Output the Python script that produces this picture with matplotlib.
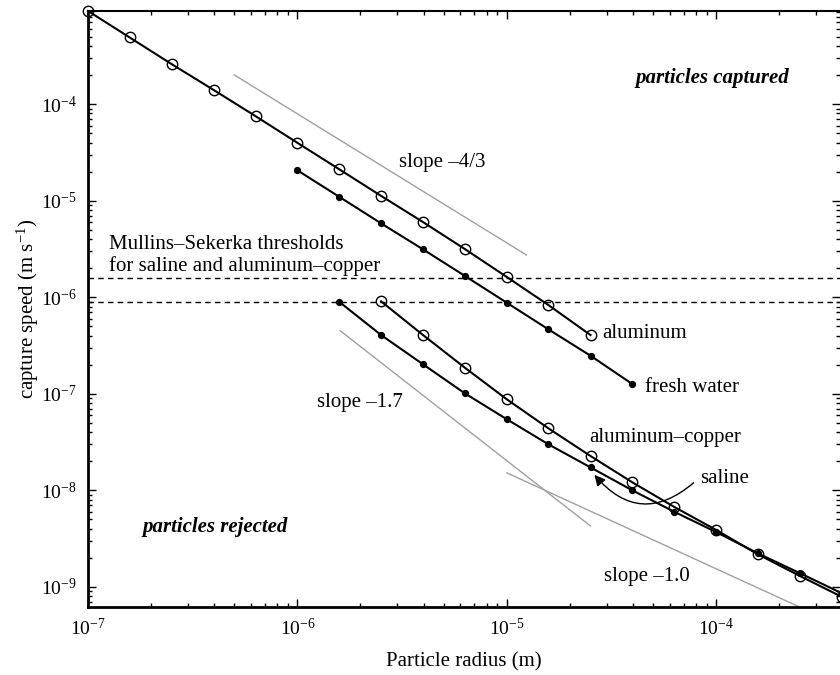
import matplotlib
matplotlib.use("Agg")
import matplotlib.pyplot as plt
from matplotlib.ticker import LogLocator, NullFormatter

plt.rcParams['font.family'] = 'Liberation Serif'
plt.rcParams['mathtext.fontset'] = 'custom'
plt.rcParams['mathtext.rm'] = 'Liberation Serif'
plt.rcParams['mathtext.it'] = 'Liberation Serif:italic'
plt.rcParams['mathtext.bf'] = 'Liberation Serif:bold'

# Data
radius = [1.0e-7, 1.58e-7, 2.51e-7, 3.98e-7, 6.31e-7, 1.0e-6, 1.58e-6,
          2.51e-6, 3.98e-6, 6.31e-6, 1.0e-5, 1.58e-5, 2.51e-5, 3.98e-5,
          6.31e-5, 1.0e-4, 1.58e-4, 2.51e-4, 3.98e-4]

aluminum_r = radius[0:13]
aluminum_v = [9.2e-4, 4.9e-4, 2.59e-4, 1.40e-4, 7.5e-5, 3.97e-5, 2.12e-5,
              1.12e-5, 6.0e-6, 3.15e-6, 1.62e-6, 8.3e-7, 4.06e-7]

fresh_r = radius[5:14]
fresh_v = [2.06e-5, 1.10e-5, 5.82e-6, 3.13e-6, 1.66e-6, 8.77e-7, 4.65e-7,
           2.48e-7, 1.26e-7]

alcu_r = radius[7:19]
alcu_v = [9.06e-7, 4.06e-7, 1.86e-7, 8.77e-8, 4.39e-8, 2.27e-8, 1.21e-8,
          6.73e-9, 3.89e-9, 2.18e-9, 1.30e-9, 7.9e-10]

saline_r = radius[6:19]
saline_v = [9.0e-7, 4.06e-7, 2.02e-7, 1.01e-7, 5.45e-8, 3.0e-8, 1.73e-8,
            1.0e-8, 6.0e-9, 3.7e-9, 2.23e-9, 1.39e-9, 8.6e-10]

thresholds = [1.57e-6, 9.0e-7]

slope43_r, slope43_v = [5.0e-7, 1.24e-5], [2.0e-4, 2.74e-6]
slope17_r, slope17_v = [1.6e-6, 2.51e-5], [4.5e-7, 4.28e-9]
slope10_r, slope10_v = [1.0e-5, 2.48e-4], [1.52e-8, 6.25e-10]

# Plot
fig = plt.figure(figsize=(8.4, 6.75), dpi=100)
ax = fig.add_axes([0.1048, 0.1007, 0.8952, 0.883])
ax.set_xscale('log')
ax.set_yscale('log')
ax.set_xlim(1e-7, 3.9e-4)
ax.set_ylim(6.2e-10, 9.2e-4)

gray = '#a0a0a0'
ax.plot(slope43_r, slope43_v, color=gray, lw=1.0)
ax.plot(slope17_r, slope17_v, color=gray, lw=1.0)
ax.plot(slope10_r, slope10_v, color=gray, lw=1.0)

for v in thresholds:
    ax.axhline(v, color='black', ls=(0, (4, 3)), lw=1.0)

ax.plot(aluminum_r, aluminum_v, '-o', color='black', lw=1.5, ms=7.5,
        mfc='none', mew=1.0, clip_on=False, zorder=4)
ax.plot(fresh_r, fresh_v, '-o', color='black', lw=1.5, ms=4.2, zorder=4)
ax.plot(alcu_r, alcu_v, '-o', color='black', lw=1.5, ms=7.5,
        mfc='none', mew=1.0, zorder=4)
ax.plot(saline_r, saline_v, '-o', color='black', lw=1.5, ms=4.2, zorder=4)

fs = 15
ax.text(3.06e-6, 2.51e-5, 'slope –4/3', fontsize=fs, va='center')
ax.text(1.26e-7, 2.70e-6, 'Mullins–Sekerka thresholds\nfor saline and aluminum–copper',
        fontsize=fs, va='center', linespacing=1.15)
ax.text(2.87e-5, 4.26e-7, 'aluminum', fontsize=fs, va='center')
ax.text(4.59e-5, 1.17e-7, 'fresh water', fontsize=fs, va='center')
ax.text(2.48e-5, 3.5e-8, 'aluminum–copper', fontsize=fs, va='center')
ax.text(1.24e-6, 8.2e-8, 'slope –1.7', fontsize=fs, va='center')
ax.text(2.9e-5, 1.27e-9, 'slope –1.0', fontsize=fs, va='center')
ax.text(4.11e-5, 1.85e-4, 'particles captured', fontsize=fs, va='center',
        fontweight='bold', fontstyle='italic')
ax.text(1.81e-7, 4.2e-9, 'particles rejected', fontsize=fs, va='center',
        fontweight='bold', fontstyle='italic')

# saline label with curved arrow
ax.text(8.4e-5, 1.34e-8, 'saline', fontsize=fs, va='center')
ax.annotate('', xy=(2.62e-5, 1.45e-8), xytext=(7.8e-5, 1.2e-8),
            arrowprops=dict(arrowstyle='-|>', color='black', lw=1.0,
                            connectionstyle='arc3,rad=-0.5',
                            shrinkA=0, shrinkB=0, mutation_scale=16))

ax.set_xlabel('Particle radius (m)', fontsize=fs, labelpad=9)
ax.set_ylabel('capture speed (m s$^{-1}$)', fontsize=fs, labelpad=0)

ax.xaxis.set_major_locator(LogLocator(base=10, numticks=20))
ax.yaxis.set_major_locator(LogLocator(base=10, numticks=20))
ax.xaxis.set_minor_locator(LogLocator(base=10, subs=range(2, 10), numticks=20))
ax.yaxis.set_minor_locator(LogLocator(base=10, subs=range(2, 10), numticks=20))
ax.xaxis.set_minor_formatter(NullFormatter())
ax.yaxis.set_minor_formatter(NullFormatter())
ax.tick_params(which='both', direction='in', top=True, right=True,
               labelsize=14, width=1.0)
ax.tick_params(which='major', length=6, pad=8)
ax.tick_params(which='minor', length=3)

ax.spines['left'].set_linewidth(2.0)
ax.spines['bottom'].set_linewidth(2.0)
ax.spines['top'].set_linewidth(1.5)
ax.spines['right'].set_visible(False)

fig.savefig('out.png', dpi=100)
